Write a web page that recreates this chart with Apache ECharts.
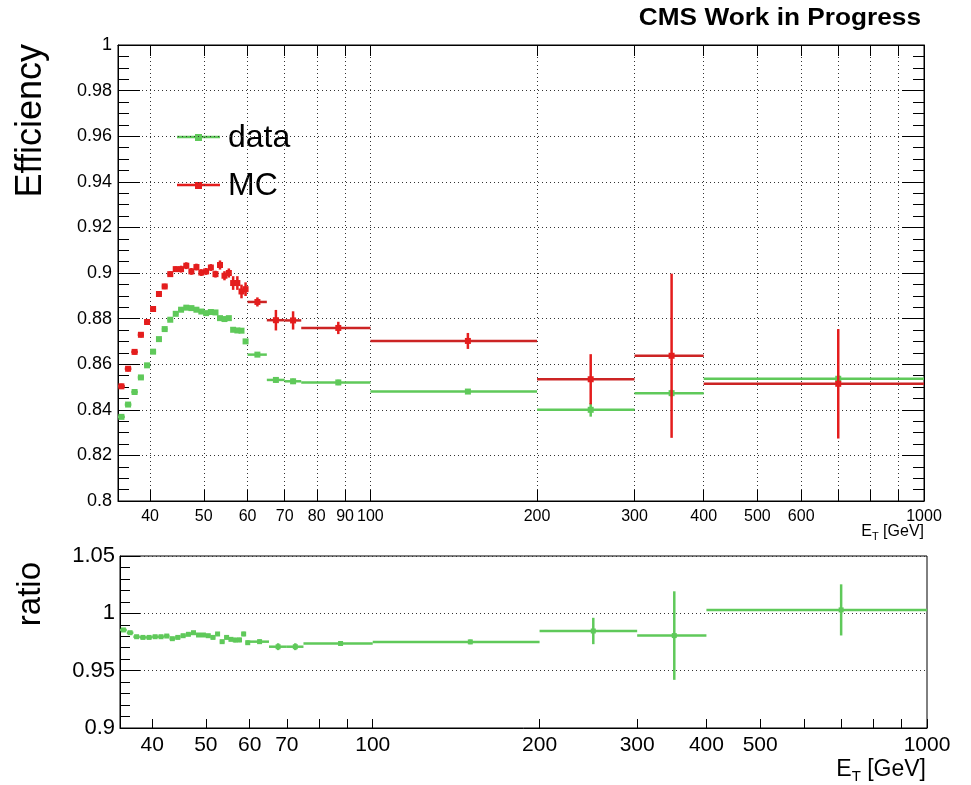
<!DOCTYPE html>
<html>
<head>
<meta charset="utf-8">
<script src="https://cdn.jsdelivr.net/npm/echarts@6/dist/echarts.min.js"></script>
<style>html,body{margin:0;padding:0;background:#fff}#c{width:971px;height:785px}</style>
</head>
<body>
<div id="c"></div>
<script>
// ---- data (E_T bins in GeV) ----
const binLow  = [35,36,37,38,39,40,41,42,43,44,45,46,47,48,49,50,51,52,53,54,55,56,57,58,59,60,65,70,75,100,200,300,400];
const binHigh = [36,37,38,39,40,41,42,43,44,45,46,47,48,49,50,51,52,53,54,55,56,57,58,59,60,65,70,75,100,200,300,400,1000];
const dataEff = [0.8369,0.8423,0.8478,0.8542,0.8595,0.8655,0.8710,0.8754,0.8795,0.8821,0.8839,0.8848,0.8846,0.8839,0.8831,0.8824,0.8829,0.8827,0.8802,0.8798,0.8802,0.8751,0.8748,0.8747,0.8700,0.8642,0.8531,0.8525,0.8520,0.8480,0.8400,0.8473,0.8536];
const dataErr = [0.0008,0.0008,0.0008,0.0008,0.0008,0.0008,0.0008,0.0008,0.0008,0.0008,0.0008,0.0008,0.0008,0.0008,0.0008,0.0008,0.0008,0.0008,0.0008,0.0008,0.0008,0.0009,0.0009,0.0009,0.0009,0.0010,0.0012,0.0012,0.0012,0.0010,0.0030,0.0015,0.0015];
const mcEff   = [0.8503,0.8580,0.8654,0.8729,0.8785,0.8842,0.8908,0.8941,0.8995,0.9017,0.9017,0.9032,0.9007,0.9026,0.9002,0.9007,0.9024,0.8995,0.9035,0.8988,0.9000,0.8956,0.8956,0.8919,0.8929,0.8873,0.8793,0.8792,0.8759,0.8702,0.8534,0.8637,0.8514];
const mcErr   = [0.0012,0.0012,0.0012,0.0012,0.0012,0.0012,0.0012,0.0012,0.0012,0.0012,0.0015,0.0015,0.0015,0.0015,0.0015,0.0015,0.0015,0.0015,0.0020,0.0020,0.0020,0.0030,0.0030,0.0030,0.0030,0.0020,0.0045,0.0040,0.0027,0.0035,0.0110,0.0360,0.0240];
const ratioVal = [0.9855,0.9831,0.9796,0.9790,0.9790,0.9796,0.9796,0.9802,0.9779,0.9790,0.9805,0.9817,0.9831,0.9811,0.9811,0.9805,0.9790,0.9820,0.9753,0.9790,0.9773,0.9767,0.9768,0.9820,0.9744,0.9753,0.9709,0.9709,0.9737,0.9751,0.9846,0.9806,1.0030];
const ratioErr = [0.0010,0.0010,0.0010,0.0010,0.0010,0.0010,0.0010,0.0010,0.0010,0.0010,0.0012,0.0012,0.0012,0.0012,0.0012,0.0012,0.0012,0.0012,0.0015,0.0015,0.0015,0.0020,0.0020,0.0020,0.0020,0.0020,0.0030,0.0030,0.0020,0.0020,0.0115,0.0386,0.0223];

const xTickValues  = [40,50,60,70,80,90,100,200,300,400,500,600,700,800,900,1000];
const topXLabels   = [40,50,60,70,80,90,100,200,300,400,500,600,1000];
const ratioXLabels = [40,50,60,70,100,200,300,400,500,1000];
const xRangeGeV = [35, 1000];

// ---- build ----
const FONT = "'Liberation Sans', Arial, Helvetica, sans-serif";
const GREEN = '#5fc95a', RED = '#e41d1d', RED_H = '#cc2424';
const lg = v => Math.log10(v);

function buildItems(vals, errs) {
  return vals.map((v, i) => [lg(binLow[i]), lg(binHigh[i]), lg((binLow[i] + binHigh[i]) / 2), v, v - errs[i], v + errs[i]]);
}

function makeRender(colH, colV, colM, lw, ms) {
  return function (params, api) {
    const y = api.value(3);
    const pL = api.coord([api.value(0), y]);
    const pR = api.coord([api.value(1), y]);
    const pC = api.coord([api.value(2), y]);
    const pLo = api.coord([api.value(2), api.value(4)]);
    const pHi = api.coord([api.value(2), api.value(5)]);
    return {
      type: 'group',
      children: [
        { type: 'line', shape: { x1: pL[0], y1: pL[1], x2: pR[0], y2: pR[1] }, style: { stroke: colH, lineWidth: lw } },
        { type: 'line', shape: { x1: pLo[0], y1: pLo[1], x2: pHi[0], y2: pHi[1] }, style: { stroke: colV, lineWidth: lw } },
        { type: 'rect', shape: { x: pC[0] - ms / 2, y: pC[1] - ms / 2, width: ms, height: ms }, style: { fill: colM } }
      ]
    };
  };
}

const fmtGeV = v => String(Math.round(Math.pow(10, v)));
const fmtNum = v => String(+(+v).toFixed(3));

const baseX = (gridIndex, position) => ({
  type: 'value', gridIndex, position,
  min: lg(xRangeGeV[0]), max: lg(xRangeGeV[1]),
  axisLine: { show: true, lineStyle: { color: '#000', width: 1 } },
  splitLine: { show: false },
  axisLabel: { show: false },
  axisTick: { show: true, inside: true, length: 11, lineStyle: { color: '#000' }, customValues: xTickValues.map(lg) }
});

const chart = echarts.init(document.getElementById('c'), null, { renderer: 'canvas' });
chart.setOption({
  animation: false,
  backgroundColor: '#fff',
  grid: [
    { left: 118, top: 45, width: 806, height: 456, show: true, borderColor: '#000', borderWidth: 1, backgroundColor: 'transparent' },
    { left: 120, top: 556, width: 807, height: 172, show: true, borderColor: '#000', borderWidth: 1, backgroundColor: 'transparent' }
  ],
  xAxis: [
    Object.assign(baseX(0, 'bottom'), {
      axisLabel: { show: true, customValues: topXLabels.map(lg), formatter: fmtGeV, fontSize: 16, fontFamily: FONT, color: '#000', margin: 8 },
      splitLine: { show: true, lineStyle: { type: [1, 3], color: '#333', width: 1 } }
    }),
    baseX(0, 'top'),
    Object.assign(baseX(1, 'bottom'), {
      axisLabel: { show: true, customValues: ratioXLabels.map(lg), formatter: fmtGeV, fontSize: 21, fontFamily: FONT, color: '#000', margin: 7 },
      axisTick: { show: true, inside: true, length: 9, lineStyle: { color: '#000' }, customValues: xTickValues.map(lg) }
    })
  ],
  yAxis: [
    {
      type: 'value', gridIndex: 0, position: 'left', min: 0.8, max: 1, interval: 0.02,
      axisLine: { show: true, lineStyle: { color: '#000' } },
      axisTick: { show: true, inside: true, length: 22, lineStyle: { color: '#000' } },
      minorTick: { show: true, splitNumber: 4, length: 11, lineStyle: { color: '#000' } },
      axisLabel: { formatter: fmtNum, fontSize: 18, fontFamily: FONT, color: '#000', margin: 6 },
      splitLine: { show: true, lineStyle: { type: [1, 3], color: '#333', width: 1 } }
    },
    {
      type: 'value', gridIndex: 0, position: 'right', min: 0.8, max: 1, interval: 0.02,
      axisLine: { show: true, lineStyle: { color: '#000' } },
      axisTick: { show: true, inside: true, length: 22, lineStyle: { color: '#000' } },
      minorTick: { show: true, splitNumber: 4, length: 11, lineStyle: { color: '#000' } },
      axisLabel: { show: false }, splitLine: { show: false }
    },
    {
      type: 'value', gridIndex: 1, position: 'left', min: 0.9, max: 1.05, interval: 0.05,
      axisLine: { show: true, lineStyle: { color: '#000' } },
      axisTick: { show: true, inside: true, length: 20, lineStyle: { color: '#000' } },
      minorTick: { show: true, splitNumber: 5, length: 10, lineStyle: { color: '#000' } },
      axisLabel: { formatter: fmtNum, fontSize: 22, fontFamily: FONT, color: '#000', margin: 5 },
      splitLine: { show: true, lineStyle: { type: [1, 3], color: '#333', width: 1 } }
    }
  ],
  series: [
    { name: 'data', type: 'custom', xAxisIndex: 0, yAxisIndex: 0, clip: true, z: 3,
      renderItem: makeRender(GREEN, GREEN, GREEN, 2.5, 6), data: buildItems(dataEff, dataErr) },
    { name: 'MC', type: 'custom', xAxisIndex: 0, yAxisIndex: 0, clip: true, z: 4,
      renderItem: makeRender(RED_H, RED, RED, 2.5, 6), data: buildItems(mcEff, mcErr) },
    { name: 'ratio', type: 'custom', xAxisIndex: 2, yAxisIndex: 2, clip: true, z: 3,
      renderItem: makeRender(GREEN, GREEN, GREEN, 2.5, 5), data: buildItems(ratioVal, ratioErr) }
  ],
  graphic: [
    { type: 'text', x: 921, y: 19, scaleX: 1.14, style: { text: 'CMS Work in Progress', font: 'bold 23px ' + FONT, fill: '#000', align: 'right', verticalAlign: 'middle', textAlign: 'right', textVerticalAlign: 'middle' } },
    { type: 'text', x: 31, y: 44, rotation: Math.PI / 2, style: { text: 'Efficiency', font: '36px ' + FONT, fill: '#000', align: 'right', verticalAlign: 'middle', textAlign: 'right', textVerticalAlign: 'middle' } },
    { type: 'text', x: 31, y: 562, rotation: Math.PI / 2, style: { text: 'ratio', font: '33px ' + FONT, fill: '#000', align: 'right', verticalAlign: 'middle', textAlign: 'right', textVerticalAlign: 'middle' } },
    { type: 'text', x: 924, y: 532, style: {
        text: '{e|E}{t|T}{e| [GeV]}', align: 'right', verticalAlign: 'middle', textAlign: 'right', textVerticalAlign: 'middle', fill: '#000',
        rich: { e: { fontSize: 16, fontFamily: FONT, lineHeight: 20, fill: '#000' }, t: { fontSize: 11, fontFamily: FONT, lineHeight: 11, verticalAlign: 'bottom', fill: '#000' } } } },
    { type: 'text', x: 926, y: 770, style: {
        text: '{e|E}{t|T}{e| [GeV]}', align: 'right', verticalAlign: 'middle', textAlign: 'right', textVerticalAlign: 'middle', fill: '#000',
        rich: { e: { fontSize: 23, fontFamily: FONT, lineHeight: 28, fill: '#000' }, t: { fontSize: 15, fontFamily: FONT, lineHeight: 15, verticalAlign: 'bottom', fill: '#000' } } } },
    // legend
    { type: 'line', shape: { x1: 177, y1: 137, x2: 220, y2: 137 }, style: { stroke: GREEN, lineWidth: 2.5 } },
    { type: 'rect', shape: { x: 195, y: 134, width: 7, height: 7 }, style: { fill: GREEN } },
    { type: 'text', x: 228, y: 138, style: { text: 'data', font: '32px ' + FONT, fill: '#000', align: 'left', verticalAlign: 'middle', textAlign: 'left', textVerticalAlign: 'middle' } },
    { type: 'line', shape: { x1: 177, y1: 185, x2: 220, y2: 185 }, style: { stroke: RED, lineWidth: 2.5 } },
    { type: 'rect', shape: { x: 195, y: 182, width: 7, height: 7 }, style: { fill: RED } },
    { type: 'text', x: 228, y: 186, style: { text: 'MC', font: '32px ' + FONT, fill: '#000', align: 'left', verticalAlign: 'middle', textAlign: 'left', textVerticalAlign: 'middle' } }
  ]
});
</script>
</body>
</html>
